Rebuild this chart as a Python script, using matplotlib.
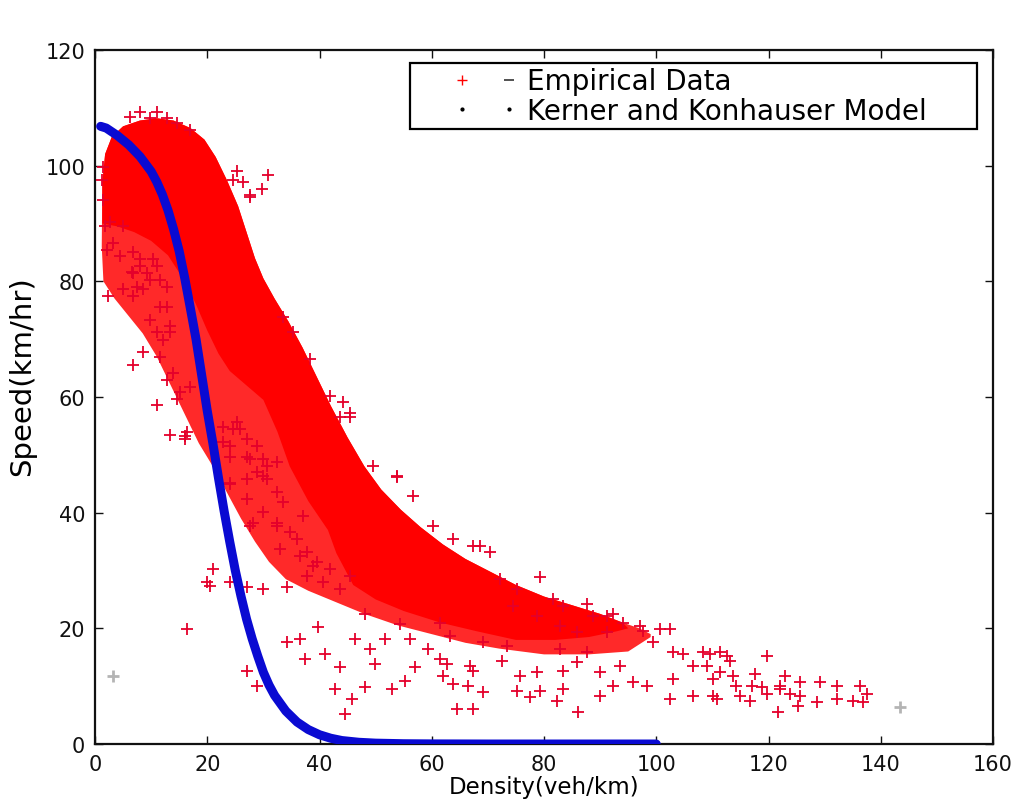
import numpy as np
import matplotlib
matplotlib.use("Agg")
import matplotlib.pyplot as plt
from matplotlib.lines import Line2D
from matplotlib.legend_handler import HandlerBase

# Upper (free-flow side) edge of the measured speed-density cloud
upper_rho = [1.3, 1.8, 3.0, 5.0, 8.0, 11.0, 14.0, 17.0, 19.5, 21.5, 23.5, 25.5, 27.0,
             28.5, 30.0, 32.0, 34.5, 37.0, 39.5, 42.0, 45.0, 48.0, 51.0, 54.5, 58.0,
             62.0, 66.0, 70.0, 75.0, 80.0, 85.0, 90.0, 94.0]
upper_speed = [97.0, 102.0, 105.0, 106.8, 107.8, 108.2, 107.8, 106.5, 104.5, 101.5,
               97.5, 93.0, 88.5, 84.0, 80.5, 77.0, 73.0, 68.5, 63.5, 58.5, 53.0, 48.0,
               44.0, 40.5, 37.5, 34.5, 32.0, 30.0, 27.5, 25.5, 24.0, 22.5, 21.0]

# Lower edge of the solid core (walked back from the congested end)
core_low_rho = [95.0, 93.0, 88.0, 82.0, 75.0, 68.0, 61.5, 55.0, 50.0, 46.0, 43.0, 41.5,
                38.0, 34.7, 32.5, 30.0, 27.0, 24.0, 22.0, 20.0, 18.0, 16.0, 13.0, 10.0,
                7.0, 4.0, 1.3]
core_low_speed = [20.0, 19.5, 18.5, 18.0, 18.0, 19.5, 21.0, 23.0, 25.0, 27.5, 33.0, 37.0,
                  42.0, 48.0, 54.0, 59.5, 62.0, 64.5, 67.5, 71.5, 76.0, 80.0, 84.5, 87.0,
                  88.5, 89.5, 90.0]

# Lower edge of the looser scatter band around the core
band_low_rho = [99.0, 95.0, 88.0, 80.0, 72.0, 66.0, 60.0, 54.0, 48.0, 43.0, 38.0, 34.0,
                31.0, 28.5, 26.0, 23.5, 21.0, 18.5, 16.0, 13.5, 11.0, 8.5, 6.0, 3.5,
                1.5, 1.2]
band_low_speed = [18.5, 16.0, 15.5, 15.5, 16.5, 17.5, 19.0, 20.5, 22.5, 24.5, 26.5, 28.5,
                  31.5, 35.0, 39.0, 43.5, 48.0, 52.0, 57.0, 62.0, 67.0, 71.0, 74.0, 77.0,
                  80.0, 86.0]

# Individual measurements around the core and along the congested tail
emp_rho = [
    6.2, 8.0, 11.0, 9.8, 12.8, 14.6, 16.9, 25.3, 26.4, 27.6, 24.6, 30.8, 29.8, 27.6,
    1.4, 1.2, 1.4, 1.8, 2.7, 5.0, 3.2, 2.1, 4.5, 6.8, 2.3, 5.0, 6.8, 8.0, 7.5, 9.3,
    10.3, 11.6, 12.8, 9.8, 11.0, 13.4, 6.8, 6.6, 8.6, 6.8, 8.6, 11.0, 13.4, 16.0,
    14.6, 11.6, 13.4, 11.6, 9.8, 8.0, 11.0, 12.8, 12.1, 13.9, 15.1, 16.9, 12.8, 16.4,
    21.0, 20.0, 24.0, 27.1, 29.9, 34.2, 16.4, 27.1, 28.9, 27.1, 28.2, 32.4, 32.4,
    33.0, 24.0, 27.1, 29.9, 33.5, 34.2, 24.0, 22.8, 25.8, 27.1, 29.9, 32.4, 28.9,
    24.6, 16.0, 24.0, 27.7, 34.7, 37.1, 38.8, 37.8, 20.5, 40.6, 43.7, 45.4, 22.8,
    25.3, 27.1, 24.0, 27.7, 28.9, 30.6, 30.6, 29.9, 32.4, 36.0, 36.5, 37.8, 39.6, 41.9,
    43.7, 45.4, 49.5, 53.8, 56.7, 60.2, 63.8, 67.3, 33.5, 35.3, 38.3, 41.9, 44.2,
    45.4, 53.8,
    36.5, 37.4, 42.8, 44.5, 45.8, 48.1, 49.9, 52.9, 55.2, 57.0, 59.3, 43.7, 41.0,
    39.7, 46.3, 49.0, 51.7, 54.3, 56.1, 61.5, 48.1,
    70.4, 68.6, 79.3, 87.7, 92.3, 97.6, 100.7, 102.4, 99.4, 104.8, 108.3, 111.4,
    113.1, 106.5, 103.0, 110.1, 110.8, 102.4, 106.5, 98.4, 92.3, 90.0, 86.1, 82.3,
    83.4, 79.3, 75.2, 77.5, 69.1, 67.3, 64.5, 66.5, 63.8, 62.0, 62.7, 66.8, 67.3,
    72.5, 75.7, 78.8, 83.4, 85.9, 90.0, 93.5, 95.9, 61.5, 63.3, 73.4, 69.1, 82.9,
    87.7, 91.2, 94.1, 88.7, 85.9, 82.9, 78.8, 74.5, 72.2, 75.2, 81.6, 83.4, 91.2,
    97.1, 103.0, 109.0,
    119.7, 117.6, 122.9, 122.0, 125.6, 129.2, 132.2, 136.3, 137.5, 136.8, 135.0,
    132.2, 128.6, 125.6, 123.8, 122.0, 119.7, 116.7, 114.9, 121.7, 125.3, 110.1,
    111.4, 113.7, 109.6, 112.6, 114.2, 117.1, 118.8,
]
emp_speed = [
    108.5, 109.2, 109.2, 108.3, 108.3, 107.4, 106.2, 99.0, 97.1, 95.0, 97.6, 98.4, 95.9, 94.6,
    99.8, 97.6, 94.1, 89.5, 90.2, 89.5, 86.7, 85.5, 84.3, 85.0, 77.4, 78.6, 77.4, 82.6, 79.1, 81.5,
    83.8, 80.3, 75.6, 73.4, 71.2, 71.2, 81.5, 81.7, 78.6, 65.6, 67.7, 58.7, 53.5, 52.7,
    59.6, 67.0, 72.2, 75.6, 80.3, 83.8, 82.6, 79.1, 69.9, 64.2, 60.8, 61.8, 63.0, 53.9,
    30.2, 28.0, 28.0, 27.1, 26.8, 27.1, 19.9, 12.6, 10.0, 42.3, 38.3, 43.5, 38.3,
    33.7, 44.9, 45.8, 46.3, 41.8, 17.6, 49.7, 52.2, 54.4, 49.7, 49.2, 48.7, 51.5,
    54.4, 53.2, 45.2, 37.7, 36.6, 39.4, 30.7, 29.0, 27.3, 28.0, 26.8, 29.0, 54.9,
    55.6, 52.7, 51.5, 49.2, 47.0, 48.0, 45.8, 40.1, 37.7, 35.4, 32.5, 33.2, 31.4, 30.2,
    56.6, 57.3, 48.0, 46.3, 42.8, 37.7, 35.4, 34.2, 73.9, 71.3, 66.5, 60.1, 59.1,
    56.6, 46.1,
    18.1, 14.7, 9.5, 5.2, 7.8, 9.8, 13.8, 9.5, 10.9, 13.3, 16.4, 13.3, 15.5,
    20.2, 18.1, 16.4, 18.1, 20.7, 18.1, 14.7, 22.5,
    33.2, 34.2, 28.8, 24.2, 22.5, 19.5, 19.9, 19.9, 17.6, 15.5, 15.9, 15.9,
    14.3, 13.5, 11.2, 11.2, 7.8, 7.8, 8.3, 10.0, 10.0, 8.3, 5.5, 7.4,
    9.5, 9.2, 9.2, 8.1, 9.0, 6.0, 6.0, 10.0, 10.4, 11.7, 13.8, 13.5, 12.6,
    14.3, 11.7, 12.4, 12.6, 14.2, 12.4, 13.5, 10.7, 21.0, 18.7, 17.0, 17.6, 16.4,
    15.9, 19.3, 21.0, 22.1, 19.3, 20.4, 22.1, 23.8, 28.5, 26.8, 25.0, 23.8, 22.1,
    20.4, 15.9, 13.5,
    15.2, 12.1, 11.7, 10.0, 10.7, 10.7, 10.0, 10.0, 8.6, 7.3, 7.4,
    7.8, 7.3, 8.3, 8.6, 9.5, 8.6, 7.4, 8.3, 5.5, 6.6, 8.3,
    12.4, 11.7, 15.5, 15.2, 10.0, 10.0, 9.8,
]

# Two faint grey readings
faint_rho = [3.2, 143.4]
faint_speed = [11.7, 6.4]

# Kerner and Konhauser equilibrium speed curve
model_rho = [1, 2, 4, 6, 8, 10, 11, 12, 13, 14, 15, 16, 17, 18, 19, 20, 21, 22, 23,
             24, 25, 26, 27, 28, 29, 30, 31, 32, 34, 36, 38, 40, 42, 44, 47, 50, 55,
             60, 70, 80, 90, 100]
model_speed = [106.8, 106.5, 105.2, 103.6, 101.6, 99.0, 97.2, 95.0, 92.3, 89.0, 85.2,
               80.5, 75.3, 70.0, 63.8, 57.6, 52.0, 46.0, 40.3, 35.0, 30.0, 25.6, 21.6,
               18.2, 15.2, 12.4, 10.2, 8.4, 5.7, 3.8, 2.5, 1.6, 1.0, 0.6, 0.3, 0.15,
               0.05, 0.02, 0.0, 0.0, 0.0, 0.0]

x_ticks = [0, 20, 40, 60, 80, 100, 120, 140, 160]
y_ticks = [0, 20, 40, 60, 80, 100, 120]
legend_labels = ["Empirical Data", "Kerner and Konhauser Model"]


class MarkPair:
    """Two legend marks with their own styles, placed apart on one row."""
    def __init__(self, left, right):
        self.left = left
        self.right = right


class MarkPairHandler(HandlerBase):
    def create_artists(self, legend, orig_handle, xdescent, ydescent, width, height,
                       fontsize, trans):
        y = height / 2.0 - ydescent
        x1 = -xdescent + 1.7 * fontsize
        x2 = width - xdescent - 0.33 * fontsize
        a = Line2D([x1], [y], linestyle="none", **orig_handle.left)
        b = Line2D([x2], [y], linestyle="none", **orig_handle.right)
        a.set_transform(trans)
        b.set_transform(trans)
        return [a, b]


fig = plt.figure(figsize=(10.14, 8.03), dpi=100)
ax = fig.add_axes([0.0937, 0.0722, 0.8856, 0.8643])

red = "#ff0000"
cross_red = "#e4002b"

band_rho = upper_rho + [97.0, 99.0] + band_low_rho
band_speed = upper_speed + [20.0, 19.0] + band_low_speed
core_rho = upper_rho + core_low_rho
core_speed = upper_speed + core_low_speed

ax.fill(band_rho, band_speed, color=red, alpha=0.84, lw=0, zorder=2)
ax.fill(core_rho, core_speed, color=red, lw=0, zorder=2)
ax.plot(emp_rho, emp_speed, linestyle="none", marker="+", color=cross_red,
        markersize=8, markeredgewidth=1.3, zorder=3)
ax.plot(faint_rho, faint_speed, linestyle="none", marker="+", color="#b4b4b4",
        markersize=9, markeredgewidth=2.0, zorder=3)
ax.plot(model_rho, model_speed, color="#0a0ad2", lw=6.5, solid_capstyle="round",
        solid_joinstyle="round", zorder=4)

ax.set_xlim(0, 160)
ax.set_ylim(0, 120)
ax.set_xticks(x_ticks)
ax.set_yticks(y_ticks)
ax.tick_params(direction="in", length=6, width=1, top=True, right=True,
               labelsize=15, pad=7, colors="#111111")
for s in ax.spines.values():
    s.set_linewidth(1.6)
    s.set_color("#111111")

ax.set_xlabel("Density(veh/km)", fontsize=16.5, labelpad=1)
ax.set_ylabel("Speed(km/hr)", fontsize=21)
ax.yaxis.set_label_coords(-0.066, 0.531)

handles = [
    MarkPair(dict(marker="+", color=red, markersize=7, markeredgewidth=1.0),
             dict(marker="_", color="#333333", markersize=7, markeredgewidth=1.2)),
    MarkPair(dict(marker=".", color="black", markersize=4),
             dict(marker=".", color="black", markersize=4)),
]
leg = ax.legend(handles, legend_labels, handler_map={MarkPair: MarkPairHandler()},
                loc="upper left", bbox_to_anchor=(0.351, 0.875, 0.631, 0.106),
                mode="expand", borderaxespad=0,
                fontsize=20, fancybox=False, framealpha=1,
                handlelength=3.75, handletextpad=0.3, borderpad=0.15,
                labelspacing=0.05)
leg.get_frame().set_edgecolor("black")
leg.get_frame().set_linewidth(1.6)

fig.savefig("out.png", dpi=100)
